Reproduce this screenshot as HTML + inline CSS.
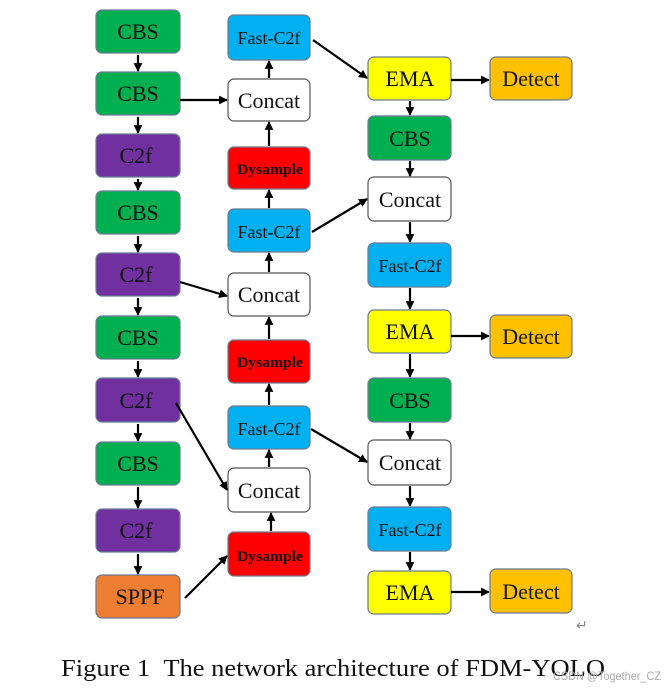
<!DOCTYPE html>
<html><head><meta charset="utf-8"><style>
html,body{margin:0;padding:0;background:#fff;}
svg{display:block}
text{font-family:"Liberation Serif",serif;fill:#111;}
</style></head><body>
<svg width="664" height="688" viewBox="0 0 664 688" xmlns="http://www.w3.org/2000/svg">
<defs>
<marker id="a" viewBox="0 0 10 10" refX="9" refY="5" markerWidth="4" markerHeight="4" orient="auto"><path d="M0,0 L10,5 L0,10 z" fill="#000"/></marker>
</defs>
<g stroke="#6a7a90" stroke-width="1.2">
<rect x="96" y="10" width="84" height="43" rx="6" fill="#00b050"/>
<rect x="96" y="72" width="84" height="43" rx="6" fill="#00b050"/>
<rect x="96" y="134" width="84" height="43" rx="6" fill="#7030a0"/>
<rect x="96" y="191" width="84" height="43" rx="6" fill="#00b050"/>
<rect x="96" y="253" width="84" height="43" rx="6" fill="#7030a0"/>
<rect x="96" y="316" width="84" height="43" rx="6" fill="#00b050"/>
<rect x="96" y="378" width="84" height="44" rx="6" fill="#7030a0"/>
<rect x="96" y="442" width="84" height="43" rx="6" fill="#00b050"/>
<rect x="96" y="509" width="84" height="43" rx="6" fill="#7030a0"/>
<rect x="96" y="575" width="84" height="43" rx="6" fill="#ed7d31"/>
<rect x="228" y="15" width="82" height="45" rx="6" fill="#00b0f0"/>
<rect x="228" y="79" width="82" height="42" rx="6" fill="#fff" stroke="#555"/>
<rect x="228" y="147" width="82" height="42" rx="6" fill="#ff0000"/>
<rect x="228" y="209" width="82" height="43" rx="6" fill="#00b0f0"/>
<rect x="228" y="273" width="82" height="43" rx="6" fill="#fff" stroke="#555"/>
<rect x="228" y="340" width="82" height="43" rx="6" fill="#ff0000"/>
<rect x="228" y="406" width="82" height="43" rx="6" fill="#00b0f0"/>
<rect x="228" y="468" width="82" height="44" rx="6" fill="#fff" stroke="#555"/>
<rect x="228" y="532" width="82" height="44" rx="6" fill="#ff0000"/>
<rect x="368" y="57" width="83" height="43" rx="6" fill="#ffff00"/>
<rect x="368" y="116" width="83" height="44" rx="6" fill="#00b050"/>
<rect x="368" y="177" width="83" height="44" rx="6" fill="#fff" stroke="#555"/>
<rect x="368" y="243" width="83" height="44" rx="6" fill="#00b0f0"/>
<rect x="368" y="310" width="83" height="43" rx="6" fill="#ffff00"/>
<rect x="368" y="378" width="83" height="44" rx="6" fill="#00b050"/>
<rect x="368" y="440" width="83" height="45" rx="6" fill="#fff" stroke="#555"/>
<rect x="368" y="507" width="83" height="44" rx="6" fill="#00b0f0"/>
<rect x="368" y="571" width="83" height="43" rx="6" fill="#ffff00"/>
<rect x="490" y="57" width="82" height="43" rx="6" fill="#ffc000"/>
<rect x="490" y="315" width="82" height="43" rx="6" fill="#ffc000"/>
<rect x="490" y="569" width="82" height="44" rx="6" fill="#ffc000"/>
</g>
<g font-size="22" text-anchor="middle">
<text x="138" y="39">CBS</text><text x="138" y="101">CBS</text><text x="136" y="163">C2f</text>
<text x="138" y="220">CBS</text><text x="136" y="282">C2f</text><text x="138" y="345">CBS</text>
<text x="136" y="408">C2f</text><text x="138" y="471">CBS</text><text x="136" y="538">C2f</text>
<text x="140" y="604">SPPF</text>
<text x="269" y="108">Concat</text><text x="269" y="302">Concat</text><text x="269" y="498">Concat</text>
<text x="410" y="86">EMA</text><text x="410" y="146">CBS</text><text x="410" y="207">Concat</text>
<text x="410" y="339">EMA</text><text x="410" y="408">CBS</text><text x="410" y="470">Concat</text>
<text x="410" y="600">EMA</text>
<text x="531" y="86">Detect</text><text x="531" y="344">Detect</text><text x="531" y="599">Detect</text>
</g>
<g font-size="18" text-anchor="middle">
<text x="269" y="44">Fast-C2f</text><text x="269" y="238">Fast-C2f</text><text x="269" y="435">Fast-C2f</text>
<text x="410" y="272">Fast-C2f</text><text x="410" y="536">Fast-C2f</text>
</g>
<g font-size="15" text-anchor="middle" font-weight="bold" style="fill:#300">
<text x="270" y="174" textLength="66" lengthAdjust="spacingAndGlyphs">Dysample</text><text x="270" y="367" textLength="66" lengthAdjust="spacingAndGlyphs">Dysample</text><text x="270" y="561" textLength="66" lengthAdjust="spacingAndGlyphs">Dysample</text>
</g>
<g stroke="#000" stroke-width="2.2" fill="none" marker-end="url(#a)">
<line x1="138" y1="55" x2="138" y2="71"/><line x1="138" y1="117" x2="138" y2="133"/>
<line x1="138" y1="179" x2="138" y2="190"/><line x1="138" y1="236" x2="138" y2="252"/>
<line x1="138" y1="298" x2="138" y2="315"/><line x1="138" y1="361" x2="138" y2="377"/>
<line x1="138" y1="424" x2="138" y2="441"/><line x1="138" y1="487" x2="138" y2="508"/>
<line x1="138" y1="554" x2="138" y2="574"/>
<line x1="180" y1="100" x2="227" y2="100"/>
<line x1="269" y1="78" x2="269" y2="61"/><line x1="269" y1="146" x2="269" y2="122"/>
<line x1="269" y1="208" x2="269" y2="190"/><line x1="269" y1="272" x2="269" y2="253"/>
<line x1="269" y1="339" x2="269" y2="317"/><line x1="269" y1="405" x2="269" y2="384"/>
<line x1="269" y1="467" x2="269" y2="450"/><line x1="271" y1="531" x2="271" y2="513"/>
<line x1="313" y1="40" x2="367" y2="78"/>
<line x1="312" y1="232" x2="367" y2="199"/>
<line x1="180" y1="282" x2="227" y2="296"/>
<line x1="311" y1="429" x2="367" y2="462"/>
<line x1="176" y1="403" x2="227" y2="490"/>
<line x1="185" y1="598" x2="227" y2="556"/>
<line x1="410" y1="101" x2="410" y2="115"/><line x1="410" y1="161" x2="410" y2="176"/>
<line x1="410" y1="222" x2="410" y2="242"/><line x1="410" y1="288" x2="410" y2="309"/>
<line x1="410" y1="354" x2="410" y2="377"/><line x1="410" y1="423" x2="410" y2="439"/>
<line x1="410" y1="486" x2="410" y2="506"/><line x1="410" y1="552" x2="410" y2="570"/>
<line x1="451" y1="80" x2="489" y2="80"/><line x1="451" y1="336" x2="489" y2="336"/>
<line x1="451" y1="592" x2="489" y2="592"/>
</g>
<text x="576" y="630" font-size="14" style="fill:#888">↵</text>
<text x="61" y="676" font-size="24" textLength="544" lengthAdjust="spacingAndGlyphs">Figure 1&#160;&#160;The network architecture of FDM-YOLO</text>
<text x="553" y="680" font-size="12" textLength="108" lengthAdjust="spacingAndGlyphs" style="font-family:'Liberation Sans',sans-serif;fill:#aaa">CSDN @Together_CZ</text>
</svg>
</body></html>
